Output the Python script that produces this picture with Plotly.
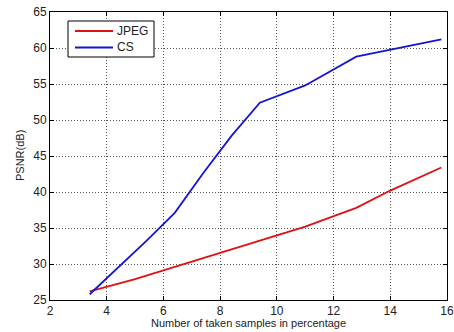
import plotly.graph_objects as go

jpeg_x = [3.4, 5.0, 6.4, 8.4, 9.6, 11.0, 12.8, 14.0, 15.8]
jpeg_y = [26.2, 27.9, 29.6, 32.0, 33.5, 35.2, 37.8, 40.2, 43.4]
cs_x = [3.4, 4.4, 5.4, 6.4, 7.4, 8.4, 9.4, 11.0, 12.8, 15.8]
cs_y = [25.8, 29.5, 33.2, 37.1, 42.6, 47.8, 52.4, 54.8, 58.8, 61.2]
x_ticks = [2, 4, 6, 8, 10, 12, 14, 16]
y_ticks = [25, 30, 35, 40, 45, 50, 55, 60, 65]
series_names = ["JPEG", "CS"]
series_colors = ["#e01010", "#1515d0"]

W, H = 454, 332
L, R, T, B = 50, 7, 12, 32
PW, PH = W - L - R, H - T - B


def px_x(p):
    return (p - L) / PW


def px_y(p):
    return 1 - (p - T) / PH


fig = go.Figure()
fig.add_trace(go.Scatter(x=jpeg_x, y=jpeg_y, mode="lines", name=series_names[0],
                         line=dict(color=series_colors[0], width=1.8), showlegend=False))
fig.add_trace(go.Scatter(x=cs_x, y=cs_y, mode="lines", name=series_names[1],
                         line=dict(color=series_colors[1], width=1.8), showlegend=False))

axis_common = dict(showline=True, linecolor="black", linewidth=1, mirror="ticks",
                   ticks="inside", ticklen=4, tickcolor="black", automargin=False,
                   showgrid=True, gridcolor="#555", griddash="1px,2px", gridwidth=1,
                   zeroline=False, ticklabeloverflow="allow",
                   tickfont=dict(family="Liberation Sans, Arial", size=12, color="#222"))

# legend box drawn with shapes (MATLAB-style)
shapes = [dict(type="rect", xref="paper", yref="paper",
               x0=px_x(68), x1=px_x(154), y0=px_y(57), y1=px_y(21),
               line=dict(color="black", width=1), fillcolor="white", layer="above")]
annotations = []
for i, (nm, col) in enumerate(zip(series_names, series_colors)):
    yy = px_y(31 + 16.5 * i)
    shapes.append(dict(type="line", xref="paper", yref="paper",
                       x0=px_x(75), x1=px_x(113), y0=yy, y1=yy,
                       line=dict(color=col, width=1.8), layer="above"))
    annotations.append(dict(text=nm, xref="paper", yref="paper", x=px_x(115), y=yy,
                            xanchor="left", yanchor="middle", showarrow=False,
                            font=dict(size=12, color="#222")))

annotations += [
    dict(text="Number of taken samples in percentage", xref="paper", yref="paper",
         x=0.5, y=0, yshift=-23, xanchor="center", yanchor="middle",
         showarrow=False, font=dict(size=11)),
    dict(text="PSNR(dB)", xref="paper", yref="paper", x=0, y=0.5, xshift=-30,
         xanchor="center", yanchor="middle", textangle=-90,
         showarrow=False, font=dict(size=11)),
]

fig.update_layout(
    template="none",
    width=W, height=H,
    margin=dict(l=L, r=R, t=T, b=B),
    paper_bgcolor="white", plot_bgcolor="white",
    font=dict(family="Liberation Sans, Arial", size=11, color="#222"),
    xaxis=dict(range=[2, 16], tickvals=x_ticks, **axis_common),
    yaxis=dict(range=[25, 65], tickvals=y_ticks, **axis_common),
    showlegend=False,
    shapes=shapes,
    annotations=annotations,
)
fig.write_html("out.html", config={"displayModeBar": False},
               post_script="document.body.style.margin='0';document.body.style.overflow='hidden';")
